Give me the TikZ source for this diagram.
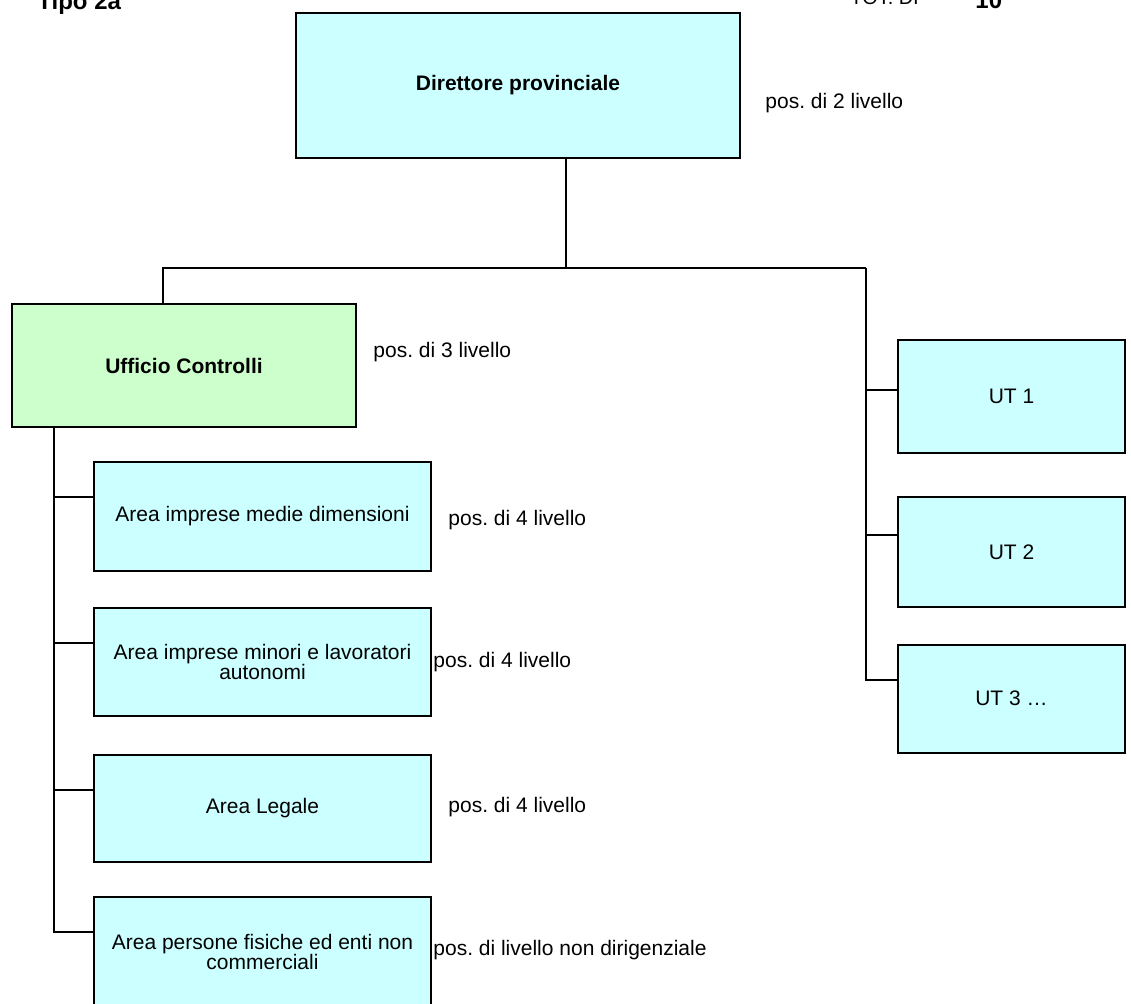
\documentclass[tikz,border=0pt]{standalone}
\usepackage{fontspec}
\setmainfont{Liberation Sans}
\usepackage{xcolor}
\usetikzlibrary{positioning}
\definecolor{boxcyan}{RGB}{204,255,255}
\definecolor{boxgreen}{RGB}{204,255,204}
\frenchspacing

\begin{document}
\begin{tikzpicture}[x=0.5pt,y=-0.5pt,
  unit/.style={draw, line width=1pt, fill=boxcyan, align=center, inner sep=2pt,
               font=\fontsize{10.5}{10}\selectfont},
  head/.style={unit, font=\fontsize{10.5}{10}\selectfont\bfseries},
  level/.style={anchor=west, inner sep=0pt, font=\fontsize{10.5}{11}\selectfont},
  link/.style={line width=1pt}]

  \useasboundingbox (0,0) rectangle (1131,1003);

  %% page header (cut at the top)
  \node[anchor=base west, inner sep=0pt, font=\fontsize{12}{12}\selectfont\bfseries] (tipo) at (37,9) {Tipo 2a};
  \node[anchor=base west, inner sep=0pt, font=\fontsize{10}{10}\selectfont] (tot) at (850,4) {TOT. DP};
  \node[anchor=base west, inner sep=0pt, font=\fontsize{12}{12}\selectfont\bfseries] (num) at (975,8) {10};

  %% Direttore
  \node[head, minimum width=222pt, minimum height=72.5pt] (dir) at (518,85.5) {Direttore provinciale};
  \node[level] (l2) at (765,103) {pos. di 2 livello};

  %% Ufficio Controlli
  \node[head, fill=boxgreen, minimum width=172pt, minimum height=61.5pt] (uc) at (184,365.5) {Ufficio Controlli};
  \node[level] (l3) at (373,352) {pos. di 3 livello};

  %% Aree
  \node[unit, minimum width=168.5pt, minimum height=54.5pt] (a1) at (262.5,516.5) {Area imprese medie dimensioni};
  \node[unit, minimum width=168.5pt, minimum height=54pt] (a2) at (262.5,662) {Area imprese minori e lavoratori\\autonomi};
  \node[unit, minimum width=168.5pt, minimum height=53.5pt] (a3) at (262.5,808.5) {Area Legale};
  \node[unit, minimum width=168.5pt, minimum height=54.5pt] (a4) at (262.5,951.5) {Area persone fisiche ed enti non\\commerciali};
  \node[level] (la1) at (448,520) {pos. di 4 livello};
  \node[level] (la2) at (433,662) {pos. di 4 livello};
  \node[level] (la3) at (448,807) {pos. di 4 livello};
  \node[level] (la4) at (433,950) {pos. di livello non dirigenziale};

  %% UT
  \node[unit, minimum width=113.5pt, minimum height=56.5pt] (ut1) at (1011.5,396.5) {UT 1};
  \node[unit, minimum width=113.5pt, minimum height=55pt] (ut2) at (1011.5,552) {UT 2};
  \node[unit, minimum width=113.5pt, minimum height=54pt] (ut3) at (1011.5,698.5) {UT 3 \dots};

  %% connectors
  \coordinate (tbar) at (566,268);
  \coordinate (rbar) at (866,268);
  \draw[link] ([xshift=24pt]dir.south) -- (tbar);
  \draw[link] ([xshift=-10.5pt]uc.north) |- (rbar);
  \foreach \n/\d in {ut1/25.5pt, ut2/19.5pt, ut3/18pt}
    \draw[link] (rbar) |- ([yshift=-\d]\n.north west);
  \foreach \n in {a1,a2,a3,a4}
    \draw[link] ([xshift=21.5pt]uc.south west) |- ([yshift=-18pt]\n.north west);
\end{tikzpicture}
\end{document}
